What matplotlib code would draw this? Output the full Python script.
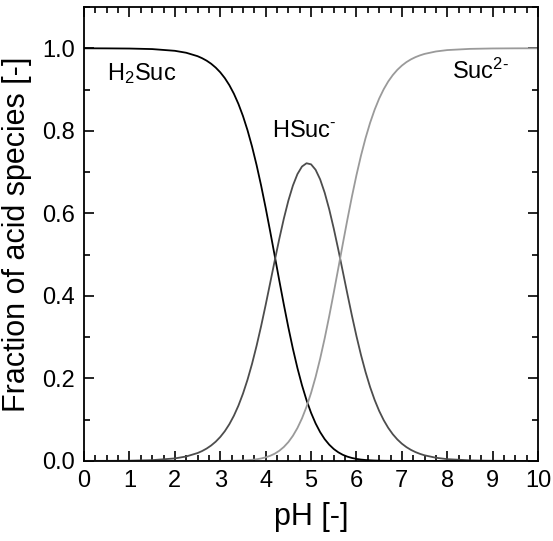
import matplotlib
matplotlib.use("Agg")
import matplotlib.pyplot as plt
from matplotlib.ticker import MultipleLocator

plt.rcParams['font.family'] = ['Liberation Sans', 'DejaVu Sans']
plt.rcParams['mathtext.fontset'] = 'custom'
plt.rcParams['mathtext.rm'] = 'Liberation Sans'
plt.rcParams['mathtext.it'] = 'Liberation Sans:italic'
plt.rcParams['mathtext.bf'] = 'Liberation Sans:bold'
plt.rcParams['mathtext.sf'] = 'Liberation Sans'

pH = [0, 0.5, 1, 1.5, 2, 2.25,
      2.5, 2.6, 2.7, 2.8, 2.9, 3.0, 3.1, 3.2, 3.3, 3.4,
      3.5, 3.6, 3.7, 3.8, 3.9, 4.0, 4.1, 4.2, 4.3, 4.4,
      4.5, 4.6, 4.7, 4.8, 4.9, 5.0, 5.1, 5.2, 5.3, 5.4,
      5.5, 5.6, 5.7, 5.8, 5.9, 6.0, 6.1, 6.2, 6.3, 6.4,
      6.5, 6.6, 6.7, 6.8, 6.9, 7.0, 7.1, 7.2, 7.3, 7.4, 7.5,
      7.75, 8, 8.5, 9, 9.5, 10]
h2suc = [1.0, 0.9998, 0.9994, 0.9981, 0.9939, 0.9892,
         0.9809, 0.9760, 0.9700, 0.9625, 0.9532, 0.9418, 0.9278, 0.9107, 0.8900, 0.8652,
         0.8359, 0.8015, 0.7619, 0.7170, 0.6673, 0.6132, 0.5560, 0.4968, 0.4373, 0.3791,
         0.3235, 0.2718, 0.2250, 0.1834, 0.1473, 0.1166, 0.0909, 0.0698, 0.0528, 0.0394,
         0.0289, 0.0209, 0.0148, 0.0104, 0.0072, 0.0049, 0.0033, 0.0022, 0.0015, 0.0010,
         0.0006, 0.0004, 0.0003, 0.0002, 0.0001, 0.0001, 0.0, 0.0, 0.0, 0.0, 0.0,
         0.0, 0.0, 0.0, 0.0, 0.0, 0.0]
hsuc = [0.0001, 0.0002, 0.0006, 0.0019, 0.0061, 0.0108,
        0.0191, 0.0240, 0.0300, 0.0375, 0.0467, 0.0581, 0.0720, 0.0890, 0.1095, 0.1340,
        0.1630, 0.1967, 0.2354, 0.2790, 0.3268, 0.3781, 0.4316, 0.4855, 0.5381, 0.5871,
        0.6308, 0.6673, 0.6952, 0.7135, 0.7214, 0.7188, 0.7056, 0.6824, 0.6500, 0.6098,
        0.5631, 0.5121, 0.4586, 0.4047, 0.3521, 0.3024, 0.2566, 0.2155, 0.1792, 0.1479,
        0.1212, 0.0988, 0.0801, 0.0647, 0.0521, 0.0418, 0.0335, 0.0268, 0.0214, 0.0171, 0.0136,
        0.0077, 0.0043, 0.0014, 0.0004, 0.0001, 0.0]
suc = [0.0, 0.0, 0.0, 0.0, 0.0, 0.0,
       0.0, 0.0, 0.0, 0.0001, 0.0001, 0.0001, 0.0002, 0.0003, 0.0005, 0.0008,
       0.0012, 0.0018, 0.0027, 0.0040, 0.0060, 0.0087, 0.0125, 0.0176, 0.0246, 0.0338,
       0.0457, 0.0609, 0.0798, 0.1031, 0.1313, 0.1647, 0.2035, 0.2478, 0.2971, 0.3509,
       0.4080, 0.4670, 0.5266, 0.5849, 0.6407, 0.6927, 0.7401, 0.7823, 0.8193, 0.8511,
       0.8782, 0.9008, 0.9197, 0.9351, 0.9478, 0.9581, 0.9665, 0.9732, 0.9786, 0.9829, 0.9864,
       0.9923, 0.9957, 0.9986, 0.9996, 0.9999, 1.0]

series_names = [r'H$_2$Suc', r'HSuc$^{\text{-}}$', r'Suc$^{\text{2-}}$']
colors = ['black', '#4d4d4d', '#9a9a9a']

fig = plt.figure(figsize=(5.53, 5.41), dpi=100)
ax = fig.add_axes([0.152, 0.148, 0.821, 0.839])

for ys, c in zip([h2suc, hsuc, suc], colors):
    ax.plot(pH, ys, color=c, lw=1.3)

ax.set_xlim(0, 10)
ax.set_ylim(0, 1.1)
ax.xaxis.set_major_locator(MultipleLocator(1))
ax.xaxis.set_minor_locator(MultipleLocator(0.25))
ax.yaxis.set_minor_locator(MultipleLocator(0.1))
ax.set_yticks([0, 0.2, 0.4, 0.6, 0.8, 1.0])
ax.set_yticklabels(['0.0', '0.2', '0.4', '0.6', '0.8', '1.0'])
ax.tick_params(which='both', direction='in', top=True, right=True, width=1.2)
ax.tick_params(which='major', length=7, labelsize=17, pad=6.5)
ax.tick_params(which='minor', length=4)
for s in ax.spines.values():
    s.set_linewidth(1.3)

ax.set_xlabel('pH [-]', fontsize=22, labelpad=7)
ax.set_ylabel('Fraction of acid species [-]', fontsize=22, labelpad=7)

ax.text(0.5, 0.94, series_names[0], fontsize=17, va='center', ha='left')
ax.text(4.15, 0.80, series_names[1], fontsize=17, va='center', ha='left')
ax.text(8.1, 0.945, series_names[2], fontsize=17, va='center', ha='left')

fig.savefig('out.png', dpi=100)
